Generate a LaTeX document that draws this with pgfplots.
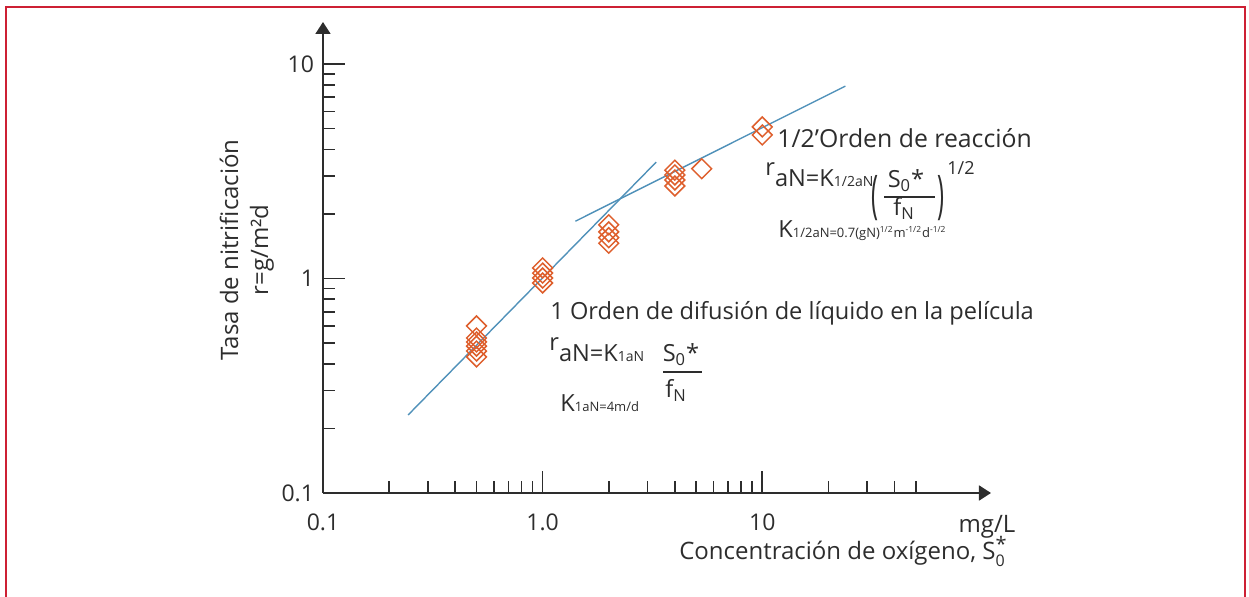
\documentclass[border=0pt]{standalone}
\usepackage{fontspec}
\setmainfont{Open Sans}
\usepackage{pgfplots}
\pgfplotsset{compat=1.18}
\usetikzlibrary{arrows.meta}

\definecolor{frame}{RGB}{205,32,52}
\definecolor{pts}{RGB}{222,95,45}
\definecolor{fit}{RGB}{80,145,185}
\definecolor{ink}{RGB}{45,45,45}

% small text used for the subscripts of the rate constants
\newcommand{\sm}[1]{{\fontsize{7}{8}\selectfont #1}}
\newcommand{\smk}[1]{{\fontsize{6.5}{7}\selectfont #1}}
\newcommand{\tn}[1]{{\fontsize{4.2}{5}\selectfont #1}}

\begin{document}
\begin{tikzpicture}[x=0.5pt, y=-0.5pt, font=\fontsize{11.8}{14}\selectfont, text=ink]
\useasboundingbox (0,0) rectangle (1249,597);
\draw[frame, line width=1.2pt] (6,600) -- (6,7) -- (1245,7) -- (1245,600);

\begin{axis}[
  at={(161.5pt,-246.5pt)}, anchor=south west,
  scale only axis, width=334pt, height=235.5pt,
  xmode=log, ymode=log,
  xmin=0.1, xmax=110, ymin=0.1, ymax=15.7,
  axis lines=left,
  axis line style={ink, line width=0.9pt, -{Triangle[length=6pt,width=7.5pt]}},
  tick align=inside,
  major tick length=11pt, minor tick length=6pt,
  every tick/.style={ink, line width=0.8pt},
  xtick={0.1,1,10}, xticklabels={0.1,1.0,10},
  minor xtick={0.2,0.3,0.4,0.5,0.6,0.7,0.8,0.9,2,3,4,5,6,7,8,9,20,30,40,50},
  ytick={0.1,1,10}, yticklabels={0.1,1,10},
  minor ytick={0.2,0.3,0.4,0.5,0.6,0.7,0.8,0.9,2,3,4,5,6,7,8,9},
  ticklabel style={font=\fontsize{11.5}{14}\selectfont, text=ink},
  xticklabel style={yshift=-7pt},
  yticklabel style={xshift=-1pt},
  ylabel={Tasa de nitrificación\\r=g/m²d},
  ylabel style={align=center, font=\fontsize{12}{15}\selectfont, text=ink,
    at={(axis description cs:-0.114,0.516)}, anchor=center},
  clip=false,
]
% first order line (liquid film diffusion)
\addplot[fit, line width=0.7pt] coordinates {(0.244,0.231) (3.29,3.49)};
% half order line (reaction)
\addplot[fit, line width=0.7pt] coordinates {(1.41,1.85) (23.9,7.89)};
% measured rates
\addplot[only marks, mark=square, mark size=3.5pt,
  mark options={pts, line width=0.75pt, rotate=45, fill=none}] coordinates {
  (0.5,0.601) (0.5,0.528) (0.5,0.506) (0.5,0.484) (0.5,0.459) (0.5,0.431)
  (1.0,1.12) (1.0,1.06) (1.0,1.005) (1.0,0.953)
  (2.0,1.78) (2.0,1.65) (2.0,1.55) (2.0,1.46)
  (4.0,3.2) (4.0,3.04) (4.0,2.88) (4.0,2.70)
  (5.3,3.25)
  (10,5.09) (10,4.67)
};
\end{axis}

% axis captions
\node[anchor=base, inner sep=0, font=\fontsize{12}{14}\selectfont] at (987,533) {mg/L};
\node[anchor=base east, inner sep=0, font=\fontsize{12}{14}\selectfont] at (1008,560)
  {Concentración de oxígeno, S$^{\mbox{\fontsize{10}{10}\selectfont *}}_{\mbox{\fontsize{8}{8}\selectfont 0}}$};

% half order annotation
\node[anchor=base west, inner sep=0, font=\fontsize{12.4}{14}\selectfont] at (777,148) {1/2’Orden de reacción};
\node[anchor=base west, inner sep=0] at (765,187) {\raisebox{0.5em}{r}aN=K\sm{1/2aN}};
\node[inner sep=0] at (875,198) {\scalebox{1}[2.2]{(}};
\node[anchor=base, inner sep=0] at (906,188) {S\textsubscript{0}*};
\draw[ink, line width=0.6pt] (884,197) -- (935,197);
\node[anchor=base, inner sep=0] at (904,216) {f\textsubscript{N}};
\node[inner sep=0] at (941,198) {\scalebox{1}[2.2]{)}};
\node[anchor=base west, inner sep=0, font=\fontsize{9}{9}\selectfont] at (947,175) {1/2};
\node[anchor=base west, inner sep=0] at (778,238)
  {K\smk{1/2aN=0.7(gN)\textsuperscript{\tn{1/2}}m\textsuperscript{\tn{-1/2}}d\textsuperscript{\tn{-1/2}}}};

% first order annotation
\node[anchor=base west, inner sep=0] at (550,320) {1 Orden de difusión de líquido en la película};
\node[anchor=base west, inner sep=0] at (549,362) {\raisebox{0.5em}{r}aN=K\sm{1aN}};
\node[anchor=base, inner sep=0] at (681,362) {S\textsubscript{0}*};
\draw[ink, line width=0.6pt] (663,372) -- (702,372);
\node[anchor=base, inner sep=0] at (676,398) {f\textsubscript{N}};
\node[anchor=base west, inner sep=0] at (560,412) {K\smk{1aN=4m/d}};
\end{tikzpicture}
\end{document}
